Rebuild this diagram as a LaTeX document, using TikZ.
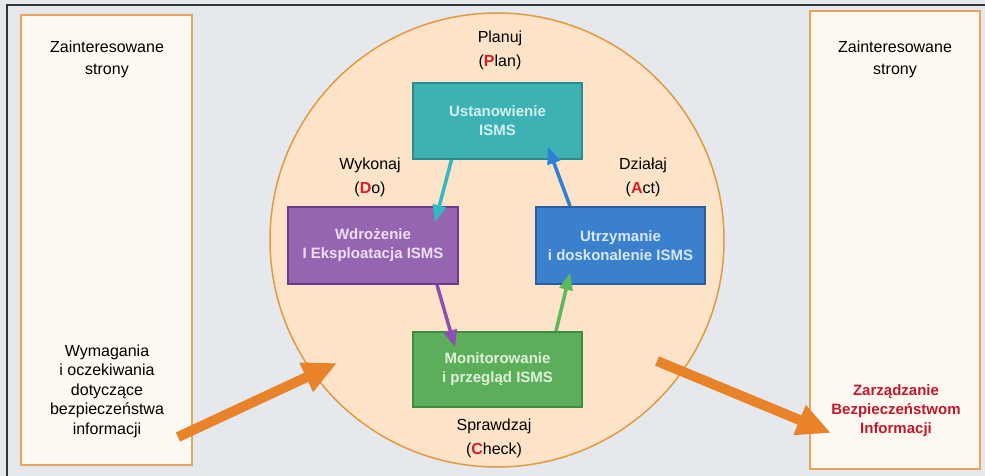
\documentclass[tikz,border=0pt]{standalone}
\usepackage{fontspec}
\setmainfont{Liberation Sans}
\usetikzlibrary{arrows.meta,calc}
\definecolor{bgc}{HTML}{E5E8ED}
\definecolor{framec}{HTML}{333333}
\definecolor{sidefill}{HTML}{FDF8F0}
\definecolor{sideborder}{HTML}{E6A45C}
\definecolor{circfill}{HTML}{FDE3C8}
\definecolor{circborder}{HTML}{E39A3E}
\definecolor{tealf}{HTML}{3DB2B4}
\definecolor{teald}{HTML}{2A8C92}
\definecolor{tealt}{HTML}{D3F0EE}
\definecolor{tealarrow}{HTML}{33B8C4}
\definecolor{purf}{HTML}{9565B2}
\definecolor{purd}{HTML}{6A3D8C}
\definecolor{purt}{HTML}{EEDFF5}
\definecolor{purarrow}{HTML}{8E50B0}
\definecolor{bluf}{HTML}{3A80CC}
\definecolor{blud}{HTML}{2A5E9E}
\definecolor{blut}{HTML}{D8E8F8}
\definecolor{bluarrow}{HTML}{2F7FD2}
\definecolor{grnf}{HTML}{5DAE5B}
\definecolor{grnd}{HTML}{3F8C41}
\definecolor{grnt}{HTML}{DFF1DA}
\definecolor{grnarrow}{HTML}{5CB85A}
\definecolor{redl}{HTML}{D0202A}
\definecolor{redt}{HTML}{C0182C}
\definecolor{bigarrow}{HTML}{E8832A}
\begin{document}
\begin{tikzpicture}[x=1pt,y=-1pt,
  sidebox/.style={draw=sideborder,fill=sidefill,line width=2pt,inner sep=0pt},
  lbl/.style={align=center,inner sep=0pt,font=\fontsize{16}{24}\selectfont},
  stagebox/.style={draw,line width=1.8pt,inner sep=0pt,minimum width=169pt,minimum height=76pt,
    align=center,font=\bfseries\fontsize{15}{19}\selectfont},
  flow/.style={line width=3.5pt,-{Triangle[length=17pt,width=13pt]}},
  bigflow/.style={line width=10pt,draw=bigarrow,-{Triangle[length=34pt,width=30pt]}}]
\useasboundingbox (0,0) rectangle (985,476);
\fill[bgc] (0,0) rectangle (985,476);
\draw[framec,line width=2pt] (7,480) -- (7,5) -- (990,5);
% side boxes
\node[sidebox,minimum width=171pt,minimum height=450pt] (lbox) at (106.5,240) {};
\node[sidebox,minimum width=170pt,minimum height=458pt] (rbox) at (895,240) {};
% cycle circle
\node[circle,draw=circborder,fill=circfill,line width=1.5pt,minimum size=454pt,inner sep=0pt] (cyc) at (497,240) {};
% labels in side boxes
\node[lbl,font=\fontsize{16}{22}\selectfont] (ltop) at (107,59) {Zainteresowane\\strony};
\node[lbl,font=\fontsize{16}{22}\selectfont] (rtop) at (895,59) {Zainteresowane\\strony};
\node[lbl,font=\fontsize{16}{19.5}\selectfont] (lbot) at (107,391) {Wymagania\\i oczekiwania\\dotyczące\\bezpieczeństwa\\informacji};
\node[lbl,text=redt,font=\bfseries\fontsize{15}{19}\selectfont] (rbot) at (896,411) {Zarządzanie\\Bezpieczeństwom\\Informacji};
% phase labels
\node[lbl] (plan) at (500,50.5) {Planuj\\({\bfseries\color{redl}P}lan)};
\node[lbl] (do) at (370,177.5) {Wykonaj\\({\bfseries\color{redl}D}o)};
\node[lbl] (act) at (643,177.5) {Działaj\\({\bfseries\color{redl}A}ct)};
\node[lbl] (check) at (494,438.5) {Sprawdzaj\\({\bfseries\color{redl}C}heck)};
% stage boxes
\node[stagebox,draw=teald,fill=tealf,text=tealt] (u) at (497.5,121) {Ustanowienie\\ISMS};
\node[stagebox,draw=purd,fill=purf,text=purt,minimum width=170pt,minimum height=77pt] (w) at (373,245.5) {Wdrożenie\\I Eksploatacja ISMS};
\node[stagebox,draw=blud,fill=bluf,text=blut,minimum height=77pt] (t) at (620.5,245.5) {Utrzymanie\\i doskonalenie ISMS};
\node[stagebox,draw=grnd,fill=grnf,text=grnt,minimum height=75pt] (m) at (497.5,369.5) {Monitorowanie\\i przegląd ISMS};
% cycle arrows
\draw[flow,draw=tealarrow,fill=tealarrow] ($(u.south)+(-46,0)$) -- ($(w.north)+(62,16)$);
\draw[flow,draw=purarrow,fill=purarrow] ($(w.south)+(64,0)$) -- ($(m.north)+(-42.5,16)$);
\draw[flow,draw=grnarrow,fill=grnarrow] ($(m.north)+(58.5,0)$) -- ($(t.south)+(-50.5,-12)$);
\draw[flow,draw=bluarrow,fill=bluarrow] ($(t.north)+(-50.5,0)$) -- ($(u.south)+(50.5,-13)$);
% big arrows
\coordinate (la) at (178,437);
\coordinate (lb) at (337,363);
\coordinate (ra) at (657,361);
\coordinate (rb) at (831,433);
\draw[bigflow,fill=bigarrow] (la) -- (lb);
\draw[bigflow,fill=bigarrow] (ra) -- (rb);
\end{tikzpicture}
\end{document}
